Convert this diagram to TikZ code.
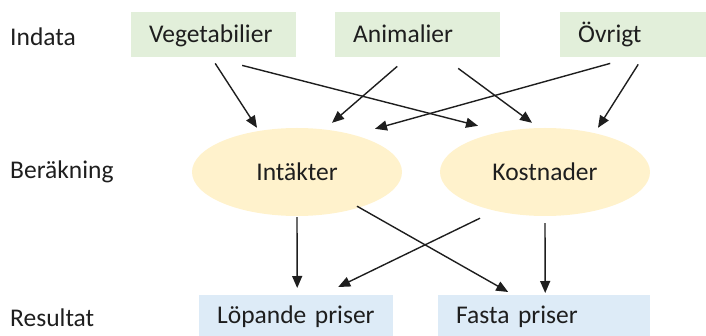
\documentclass[tikz,border=0pt]{standalone}
\usepackage{fontspec}
\setmainfont{Carlito}
\usetikzlibrary{calc,arrows.meta,shapes.geometric}

\definecolor{ingreen}{HTML}{E2EFDA}
\definecolor{calcyellow}{HTML}{FFF2CC}
\definecolor{resblue}{HTML}{DDEBF7}
\definecolor{inkgray}{HTML}{1E1E1E}

\begin{document}
\begin{tikzpicture}[x=1pt,y=-1pt,
  font=\fontsize{25.5}{30}\selectfont, text=inkgray,
  inbox/.style={fill=ingreen, anchor=north west, minimum height=45pt,
    inner xsep=18pt, inner ysep=0pt, align=left,
    text height=18pt, text depth=1.6pt},
  resbox/.style={fill=resblue, anchor=north west, minimum height=45pt,
    inner xsep=18pt, inner ysep=0pt, align=left,
    text height=18pt, text depth=6.4pt},
  calcoval/.style={ellipse, fill=calcyellow, minimum width=210pt,
    minimum height=88pt, inner sep=0pt},
  rowlabel/.style={anchor=west, inner sep=0pt},
  flow/.style={line width=1.4pt, draw=inkgray,
    -{Triangle[length=12pt,width=10pt]}}]
\clip (0,0) rectangle (706,336);
% row labels
\node[rowlabel] (indata) at (10,37) {Indata};
\node[rowlabel] (berakning) at (10,172) {Beräkning};
\node[rowlabel] (resultat) at (10,318) {Resultat};
% indata
\node[inbox, text width=129pt] (veg) at (131,12) {Vegetabilier};
\node[inbox, text width=129pt] (anim) at (335,12) {Animalier};
\node[inbox, text width=129pt] (ovr) at (560,12) {Övrigt};
% berakning
\node[calcoval] (int) at (297,172) {Intäkter};
\node[calcoval] (kost) at (545,172) {Kostnader};
% resultat
\node[resbox, text width=158pt] (lop) at (199,295) {Löpande priser};
\node[resbox, text width=176pt] (fasta) at (438,295) {Fasta priser};
% arrows
\draw[flow] ([shift={(1.5,6)}]veg.south) -- ([shift={(-40,0)}]int.north);
\draw[flow] ([shift={(28.5,8)}]veg.south) -- ([shift={(-67,-2)}]kost.north);
\draw[flow] ([shift={(-20.5,9)}]anim.south) -- ([shift={(35,-5)}]int.north);
\draw[flow] ([shift={(40.5,11)}]anim.south) -- ([shift={(-13,-5)}]kost.north);
\draw[flow] ([shift={(-32.5,6)}]ovr.south) -- ([shift={(78,1)}]int.north);
\draw[flow] ([shift={(-4.5,7)}]ovr.south) -- ([shift={(53,0)}]kost.north);
\draw[flow] ([shift={(0,1)}]int.south) -- ([shift={(1,-7)}]lop.north);
\draw[flow] ([shift={(60,-10)}]int.south) -- ([shift={(-36,-3)}]fasta.north);
\draw[flow] ([shift={(-65,2)}]kost.south) -- ([shift={(42,-8)}]lop.north);
\draw[flow] ([shift={(0,7)}]kost.south) -- ([shift={(1,-2)}]fasta.north);
\end{tikzpicture}
\end{document}
